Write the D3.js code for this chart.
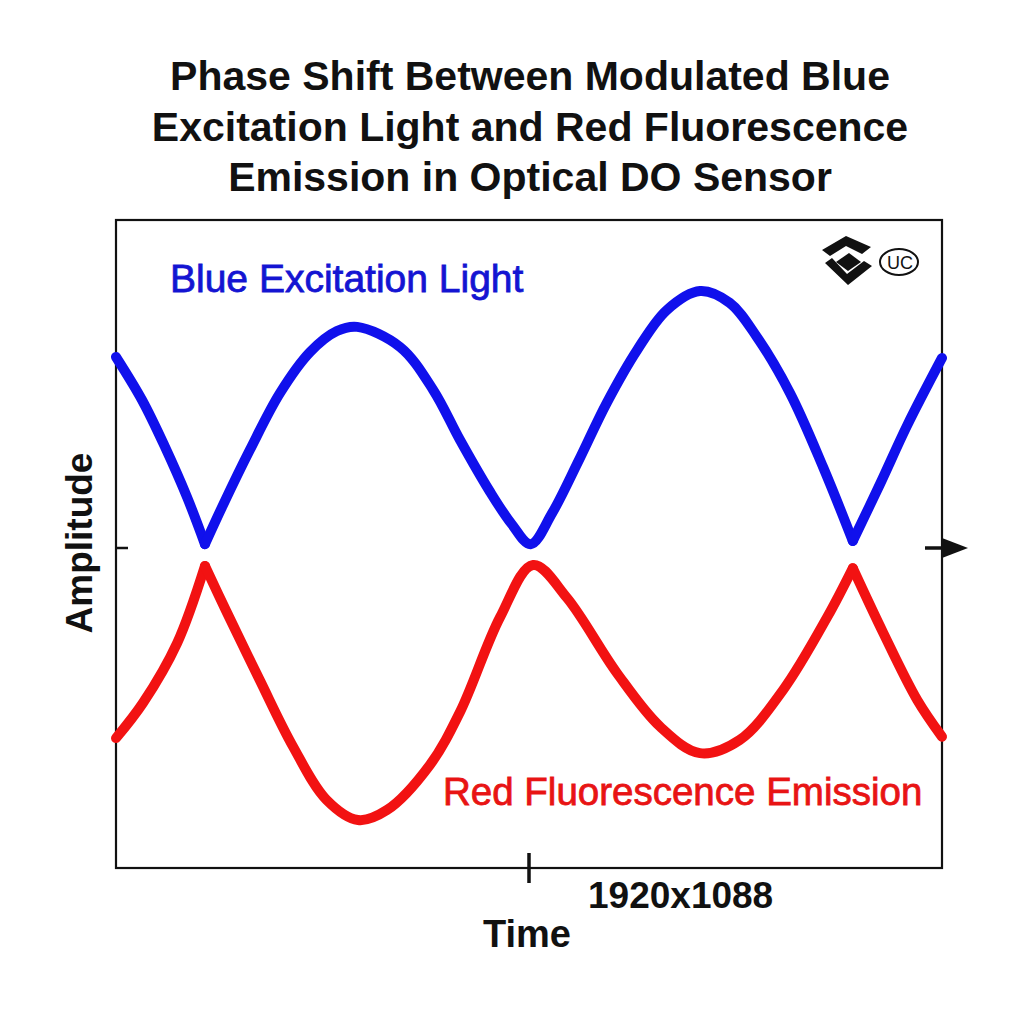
<!DOCTYPE html>
<html lang="en">
<head>
<meta charset="UTF-8">
<title>Phase Shift</title>
<script src="https://d3js.org/d3.v7.min.js"></script>
<style>
  body { margin: 0; background: #fff; }
  svg { display: block; font-family: "Liberation Sans", Arial, sans-serif; }
</style>
</head>
<body>
<div id="chart"></div>
<script>
// time (0-100) and amplitude values
const blueT = [0, 3.15, 5.93, 8.6, 10.77, 12.95, 16.2, 19.85, 23.5, 26.75, 29.2, 34.4, 38.4, 41.65, 45.3, 47.9, 50.2, 52.8, 56.05, 59.4, 63.1, 66.7, 70.7, 74.3, 77.6, 81.6, 85.6, 89.2, 92.5, 95.8, 100];
const blueV = [59.7, 46.25, 31.6, 15.9, 1.2, 13.4, 30.6, 48.4, 61.25, 67.8, 69.1, 62.8, 49.4, 33.75, 17.5, 7.5, 1.2, 10.9, 27.5, 45.3, 61.9, 74.4, 80.3, 76.6, 65.9, 48.4, 25.3, 2.2, 20, 38.4, 59.4];
const blueCuspT = [10.77, 89.2];

const redT = [0, 3.27, 7.4, 10.77, 13.4, 17.4, 21.4, 25.5, 29.3, 32.8, 38.0, 41.65, 46.5, 50.5, 54.6, 60.65, 65.9, 70.7, 75.5, 80.75, 86.1, 89.2, 92.9, 97.0, 100];
const redV = [-59.4, -48.4, -29.7, -5.6, -20, -41.25, -61.9, -78.75, -85, -81.9, -67.8, -51.25, -21.6, -5.3, -15.6, -39.1, -55.9, -64.1, -60, -44.4, -21.6, -6.3, -26.6, -47.5, -59];
const redCuspT = [10.77, 89.2];

const titleLines = ["Phase Shift Between Modulated Blue", "Excitation Light and Red Fluorescence", "Emission in Optical DO Sensor"];
const blueLabel = "Blue Excitation Light";
const redLabel = "Red Fluorescence Emission";
const resLabel = "1920x1088";

const W = 1024, H = 1024;
const svg = d3.select("#chart").append("svg").attr("width", W).attr("height", H);
svg.append("rect").attr("width", W).attr("height", H).attr("fill", "#fff");

const x = d3.scaleLinear().domain([0, 100]).range([116, 942]);
const y = d3.scaleLinear().domain([-100, 102.5]).range([868, 220]);

// title
svg.append("g").selectAll("text")
  .data(titleLines)
  .join("text")
  .attr("x", 530)
  .attr("y", (d, i) => 90 + i * 50.5)
  .attr("text-anchor", "middle")
  .attr("font-size", 41)
  .attr("font-weight", "bold")
  .attr("fill", "#111")
  .text(d => d);

// frame
svg.append("rect")
  .attr("x", x.range()[0]).attr("y", y.range()[1])
  .attr("width", x.range()[1] - x.range()[0])
  .attr("height", y.range()[0] - y.range()[1])
  .attr("fill", "none").attr("stroke", "#111").attr("stroke-width", 2.2);

// split series into smooth pieces at the sharp cusps
function segments(ts, vs, cusps) {
  const out = [];
  let cur = [];
  ts.forEach((t, i) => {
    cur.push([t, vs[i]]);
    if (cusps.includes(t) && cur.length > 1) {
      out.push(cur);
      cur = [[t, vs[i]]];
    }
  });
  if (cur.length > 1) out.push(cur);
  return out;
}

const line = d3.line()
  .x(d => x(d[0]))
  .y(d => y(d[1]))
  .curve(d3.curveCatmullRom.alpha(0.5));

const series = [
  { segs: segments(blueT, blueV, blueCuspT), color: "#1010ec" },
  { segs: segments(redT, redV, redCuspT), color: "#f21212" }
];

series.forEach(s => {
  svg.append("g").selectAll("path")
    .data(s.segs)
    .join("path")
    .attr("d", line)
    .attr("fill", "none")
    .attr("stroke", s.color)
    .attr("stroke-width", 10)
    .attr("stroke-linecap", "round")
    .attr("stroke-linejoin", "round");
});

// axis marks
svg.append("line")
  .attr("x1", x(0)).attr("x2", x(0) + 12)
  .attr("y1", y(0)).attr("y2", y(0))
  .attr("stroke", "#111").attr("stroke-width", 2.5);

svg.append("line")
  .attr("x1", x(100) - 17).attr("x2", x(100))
  .attr("y1", y(0)).attr("y2", y(0))
  .attr("stroke", "#111").attr("stroke-width", 3.5);
svg.append("path")
  .attr("d", `M${x(100)},${y(0) - 10}L${x(100) + 26},${y(0)}L${x(100)},${y(0) + 10}Z`)
  .attr("fill", "#111");

svg.append("line")
  .attr("x1", x(50)).attr("x2", x(50))
  .attr("y1", y.range()[0] - 15).attr("y2", y.range()[0] + 15)
  .attr("stroke", "#111").attr("stroke-width", 3.5);

// series labels
svg.append("text")
  .attr("x", 170).attr("y", 292)
  .attr("font-size", 39)
  .attr("fill", "#1414d2").attr("stroke", "#1414d2").attr("stroke-width", 0.8)
  .text(blueLabel);

svg.append("text")
  .attr("x", 443).attr("y", 805)
  .attr("font-size", 38.5)
  .attr("fill", "#e81414").attr("stroke", "#e81414").attr("stroke-width", 0.8)
  .text(redLabel);

// axis titles
svg.append("text")
  .attr("x", 527).attr("y", 947)
  .attr("text-anchor", "middle")
  .attr("font-size", 38).attr("font-weight", "bold").attr("fill", "#111")
  .text("Time");

svg.append("text")
  .attr("transform", `translate(92,${y(0) - 5}) rotate(-90)`)
  .attr("text-anchor", "middle")
  .attr("font-size", 37).attr("font-weight", "bold").attr("fill", "#111")
  .text("Amplitude");

svg.append("text")
  .attr("x", 588).attr("y", 908)
  .attr("font-size", 37).attr("font-weight", "bold").attr("fill", "#111")
  .text(resLabel);

// small marks in the top right corner
const logo = svg.append("g").attr("fill", "#111");
logo.append("path").attr("d", "M822,250L846,236L871,247L862,254L846,246L830,256Z");
logo.append("path").attr("d", "M836,262L849,253L861,262L848,271Z");
logo.append("path").attr("d", "M825,263L832,258L847,274L864,261L872,266L848,285Z");
svg.append("ellipse")
  .attr("cx", 899).attr("cy", 262).attr("rx", 19).attr("ry", 13)
  .attr("fill", "none").attr("stroke", "#111").attr("stroke-width", 2);
svg.append("text")
  .attr("x", 900).attr("y", 269)
  .attr("text-anchor", "middle")
  .attr("font-size", 18).attr("fill", "#111")
  .text("UC");
</script>
</body>
</html>
